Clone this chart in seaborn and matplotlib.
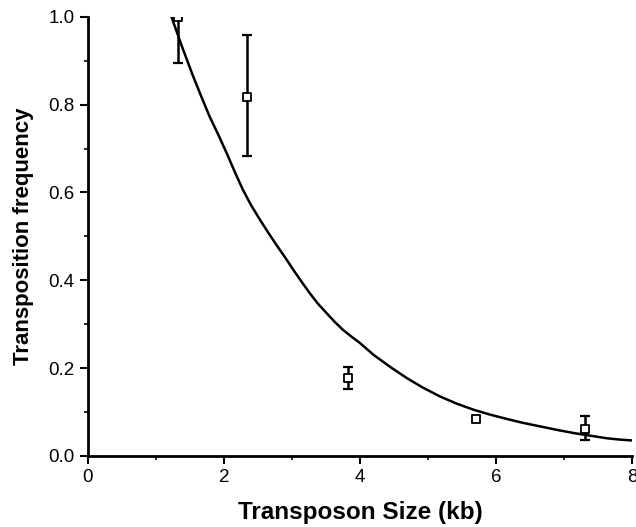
import numpy as np
import pandas as pd
import seaborn as sns
import matplotlib.pyplot as plt
from matplotlib.ticker import MultipleLocator

# measured points (kb, frequency) with asymmetric error bars
size_kb = [1.32, 2.34, 3.82, 5.71, 7.30]
freq = [1.0, 0.818, 0.178, 0.084, 0.062]
err_low = [0.105, 0.135, 0.025, 0.006, 0.026]
err_high = [0.0, 0.141, 0.025, 0.006, 0.029]

# fitted curve
curve_x = [1.23, 1.39, 1.55, 1.67, 1.79, 1.92, 2.04, 2.16, 2.28, 2.40, 2.53, 2.65, 2.77,
           2.90, 3.02, 3.14, 3.26, 3.38, 3.51, 3.63, 3.75, 3.88, 4.0, 4.20, 4.45,
           4.69, 4.93, 5.18, 5.42, 5.67, 5.91, 6.16, 6.40, 6.65, 6.90, 7.14, 7.38,
           7.63, 7.82, 8.0]
curve_y = [1.0, 0.93, 0.864, 0.818, 0.773, 0.731, 0.690, 0.647, 0.606, 0.571, 0.538,
           0.509, 0.481, 0.452, 0.424, 0.397, 0.371, 0.347, 0.325, 0.305, 0.287,
           0.271, 0.257, 0.230, 0.202, 0.177, 0.155, 0.135, 0.119, 0.105, 0.094,
           0.084, 0.075, 0.067, 0.059, 0.052, 0.046, 0.040, 0.037, 0.035]

sns.set_style("ticks")
plt.rcParams['font.family'] = ['Liberation Sans', 'DejaVu Sans']
plt.rcParams['text.color'] = 'black'
plt.rcParams['axes.labelcolor'] = 'black'
plt.rcParams['xtick.color'] = 'black'
plt.rcParams['ytick.color'] = 'black'

fig = plt.figure(figsize=(6.36, 5.27), dpi=100)
ax = fig.add_axes([0.138, 0.135, 0.856, 0.833])

curve = pd.DataFrame({'x': curve_x, 'y': curve_y})
sns.lineplot(data=curve, x='x', y='y', ax=ax, color='black', linewidth=1.8)

ax.errorbar(size_kb, freq, yerr=[err_low, err_high], fmt='none', ecolor='black',
            elinewidth=1.8, capsize=3.5, capthick=1.6)
sns.scatterplot(x=size_kb, y=freq, ax=ax, marker='s', s=30, facecolor='white',
                edgecolor='black', linewidth=1.3, zorder=5)

ax.set_xlim(0, 8)
ax.set_ylim(0, 1.0)
ax.xaxis.set_major_locator(MultipleLocator(2))
ax.xaxis.set_minor_locator(MultipleLocator(1))
ax.yaxis.set_major_locator(MultipleLocator(0.2))
ax.yaxis.set_minor_locator(MultipleLocator(0.1))
ax.yaxis.set_major_formatter(plt.FormatStrFormatter('%.1f'))

ax.tick_params(which='major', length=6, width=1.5, labelsize=13.5)
ax.tick_params(which='minor', length=3, width=1.2)
for s in ['left', 'bottom']:
    ax.spines[s].set_linewidth(2)
    ax.spines[s].set_color('black')
sns.despine(ax=ax)
for sp in ['left', 'bottom']:
    ax.spines[sp].set_clip_on(False)

ax.set_xlabel('Transposon Size (kb)', fontsize=17.5, fontweight='bold', labelpad=11)
ax.set_ylabel('Transposition frequency', fontsize=16, fontweight='bold', labelpad=10)

fig.savefig('out.png', dpi=100)
